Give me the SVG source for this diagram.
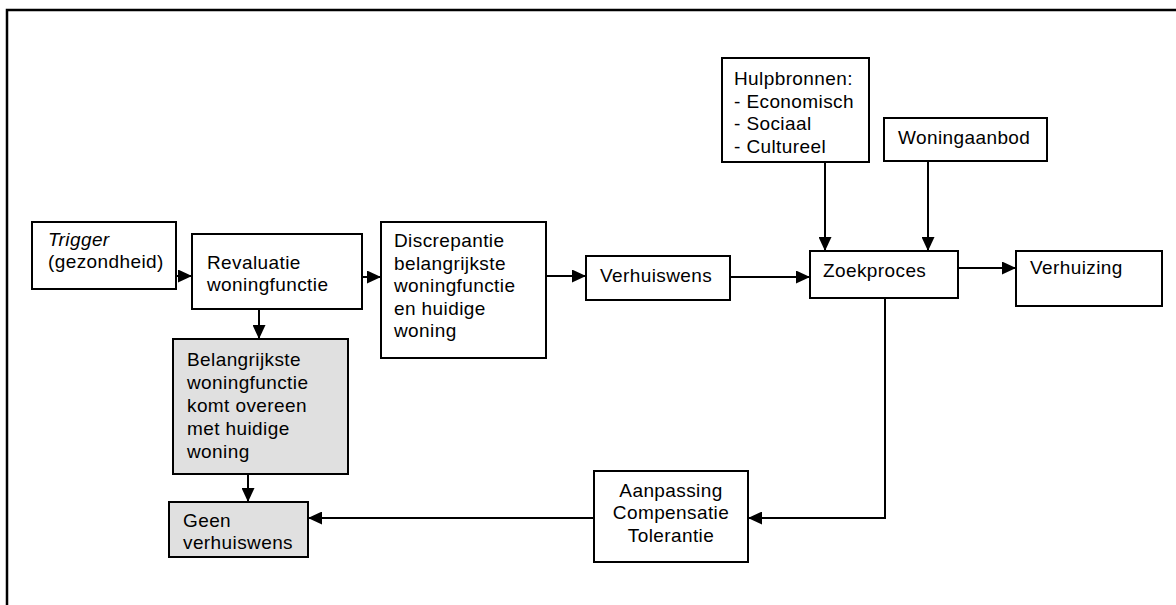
<svg xmlns="http://www.w3.org/2000/svg" width="1176" height="605" viewBox="0 0 1176 605">
<style>
  .box { fill: #ffffff; stroke: #000000; stroke-width: 2; }
  .grey { fill: #e0e0e0; }
  .t { font-family: "Liberation Sans", Arial, sans-serif; font-size: 19px; letter-spacing: 0.4px; fill: #000000; }
  .c { text-anchor: middle; }
  .con { fill: none; stroke: #000000; stroke-width: 2; marker-end: url(#arr); }
</style>
<defs>
  <marker id="arr" markerUnits="userSpaceOnUse" markerWidth="14" markerHeight="13" refX="14" refY="6.5" orient="auto">
    <path d="M0,0 L14,6.5 L0,13 z" fill="#000000"/>
  </marker>
</defs>
<rect x="0" y="0" width="1176" height="605" fill="#ffffff"/>
<rect id="frame" x="7" y="10" width="1200" height="700" fill="none" stroke="#000000" stroke-width="2.5"/>

<g id="connectors">
  <line class="con" x1="176" y1="276" x2="192" y2="276"/>
  <line class="con" x1="362" y1="277" x2="381" y2="277"/>
  <line class="con" x1="259" y1="309" x2="259" y2="339"/>
  <line class="con" x1="248" y1="474" x2="248" y2="502"/>
  <line class="con" x1="546" y1="276" x2="586" y2="276"/>
  <line class="con" x1="730" y1="277" x2="810" y2="277"/>
  <line class="con" x1="958" y1="268" x2="1016" y2="268"/>
  <line class="con" x1="825" y1="162" x2="825" y2="251"/>
  <line class="con" x1="928" y1="161" x2="928" y2="251"/>
  <polyline class="con" points="885,298 885,518 748,518"/>
  <line class="con" x1="594" y1="518" x2="308" y2="518"/>
</g>

<g id="trigger">
  <rect class="box" x="32" y="222" width="144" height="67"/>
  <text class="t" x="48" y="246" font-style="italic">Trigger</text>
  <text class="t" x="48" y="268">(gezondheid)</text>
</g>

<g id="revaluatie">
  <rect class="box" x="192" y="234" width="170" height="75"/>
  <text class="t" x="207" y="269">Revaluatie</text>
  <text class="t" x="207" y="291">woningfunctie</text>
</g>

<g id="belangrijkste">
  <rect class="box grey" x="173" y="339" width="175" height="135"/>
  <text class="t" x="187" y="366">Belangrijkste</text>
  <text class="t" x="187" y="389">woningfunctie</text>
  <text class="t" x="187" y="412">komt overeen</text>
  <text class="t" x="187" y="435">met huidige</text>
  <text class="t" x="187" y="458">woning</text>
</g>

<g id="geen">
  <rect class="box grey" x="169" y="502" width="139" height="55"/>
  <text class="t" x="183" y="527">Geen</text>
  <text class="t" x="183" y="549">verhuiswens</text>
</g>

<g id="discrepantie">
  <rect class="box" x="381" y="222" width="165" height="136"/>
  <text class="t" x="394" y="247">Discrepantie</text>
  <text class="t" x="394" y="270">belangrijkste</text>
  <text class="t" x="394" y="292">woningfunctie</text>
  <text class="t" x="394" y="315">en huidige</text>
  <text class="t" x="394" y="337">woning</text>
</g>

<g id="verhuiswens">
  <rect class="box" x="586" y="256" width="144" height="44"/>
  <text class="t" x="600" y="282">Verhuiswens</text>
</g>

<g id="hulpbronnen">
  <rect class="box" x="722" y="58" width="147" height="104"/>
  <text class="t" x="734" y="85">Hulpbronnen:</text>
  <text class="t" x="734" y="107.5">- Economisch</text>
  <text class="t" x="734" y="130">- Sociaal</text>
  <text class="t" x="734" y="152.5">- Cultureel</text>
</g>

<g id="woningaanbod">
  <rect class="box" x="884" y="118" width="163" height="43"/>
  <text class="t" x="898" y="144">Woningaanbod</text>
</g>

<g id="zoekproces">
  <rect class="box" x="810" y="251" width="148" height="47"/>
  <text class="t" x="823" y="277">Zoekproces</text>
</g>

<g id="verhuizing">
  <rect class="box" x="1016" y="251" width="146" height="55"/>
  <text class="t" x="1030" y="274">Verhuizing</text>
</g>

<g id="aanpassing">
  <rect class="box" x="594" y="471" width="154" height="91"/>
  <text class="t c" x="671" y="497">Aanpassing</text>
  <text class="t c" x="671" y="519">Compensatie</text>
  <text class="t c" x="671" y="542">Tolerantie</text>
</g>
</svg>
